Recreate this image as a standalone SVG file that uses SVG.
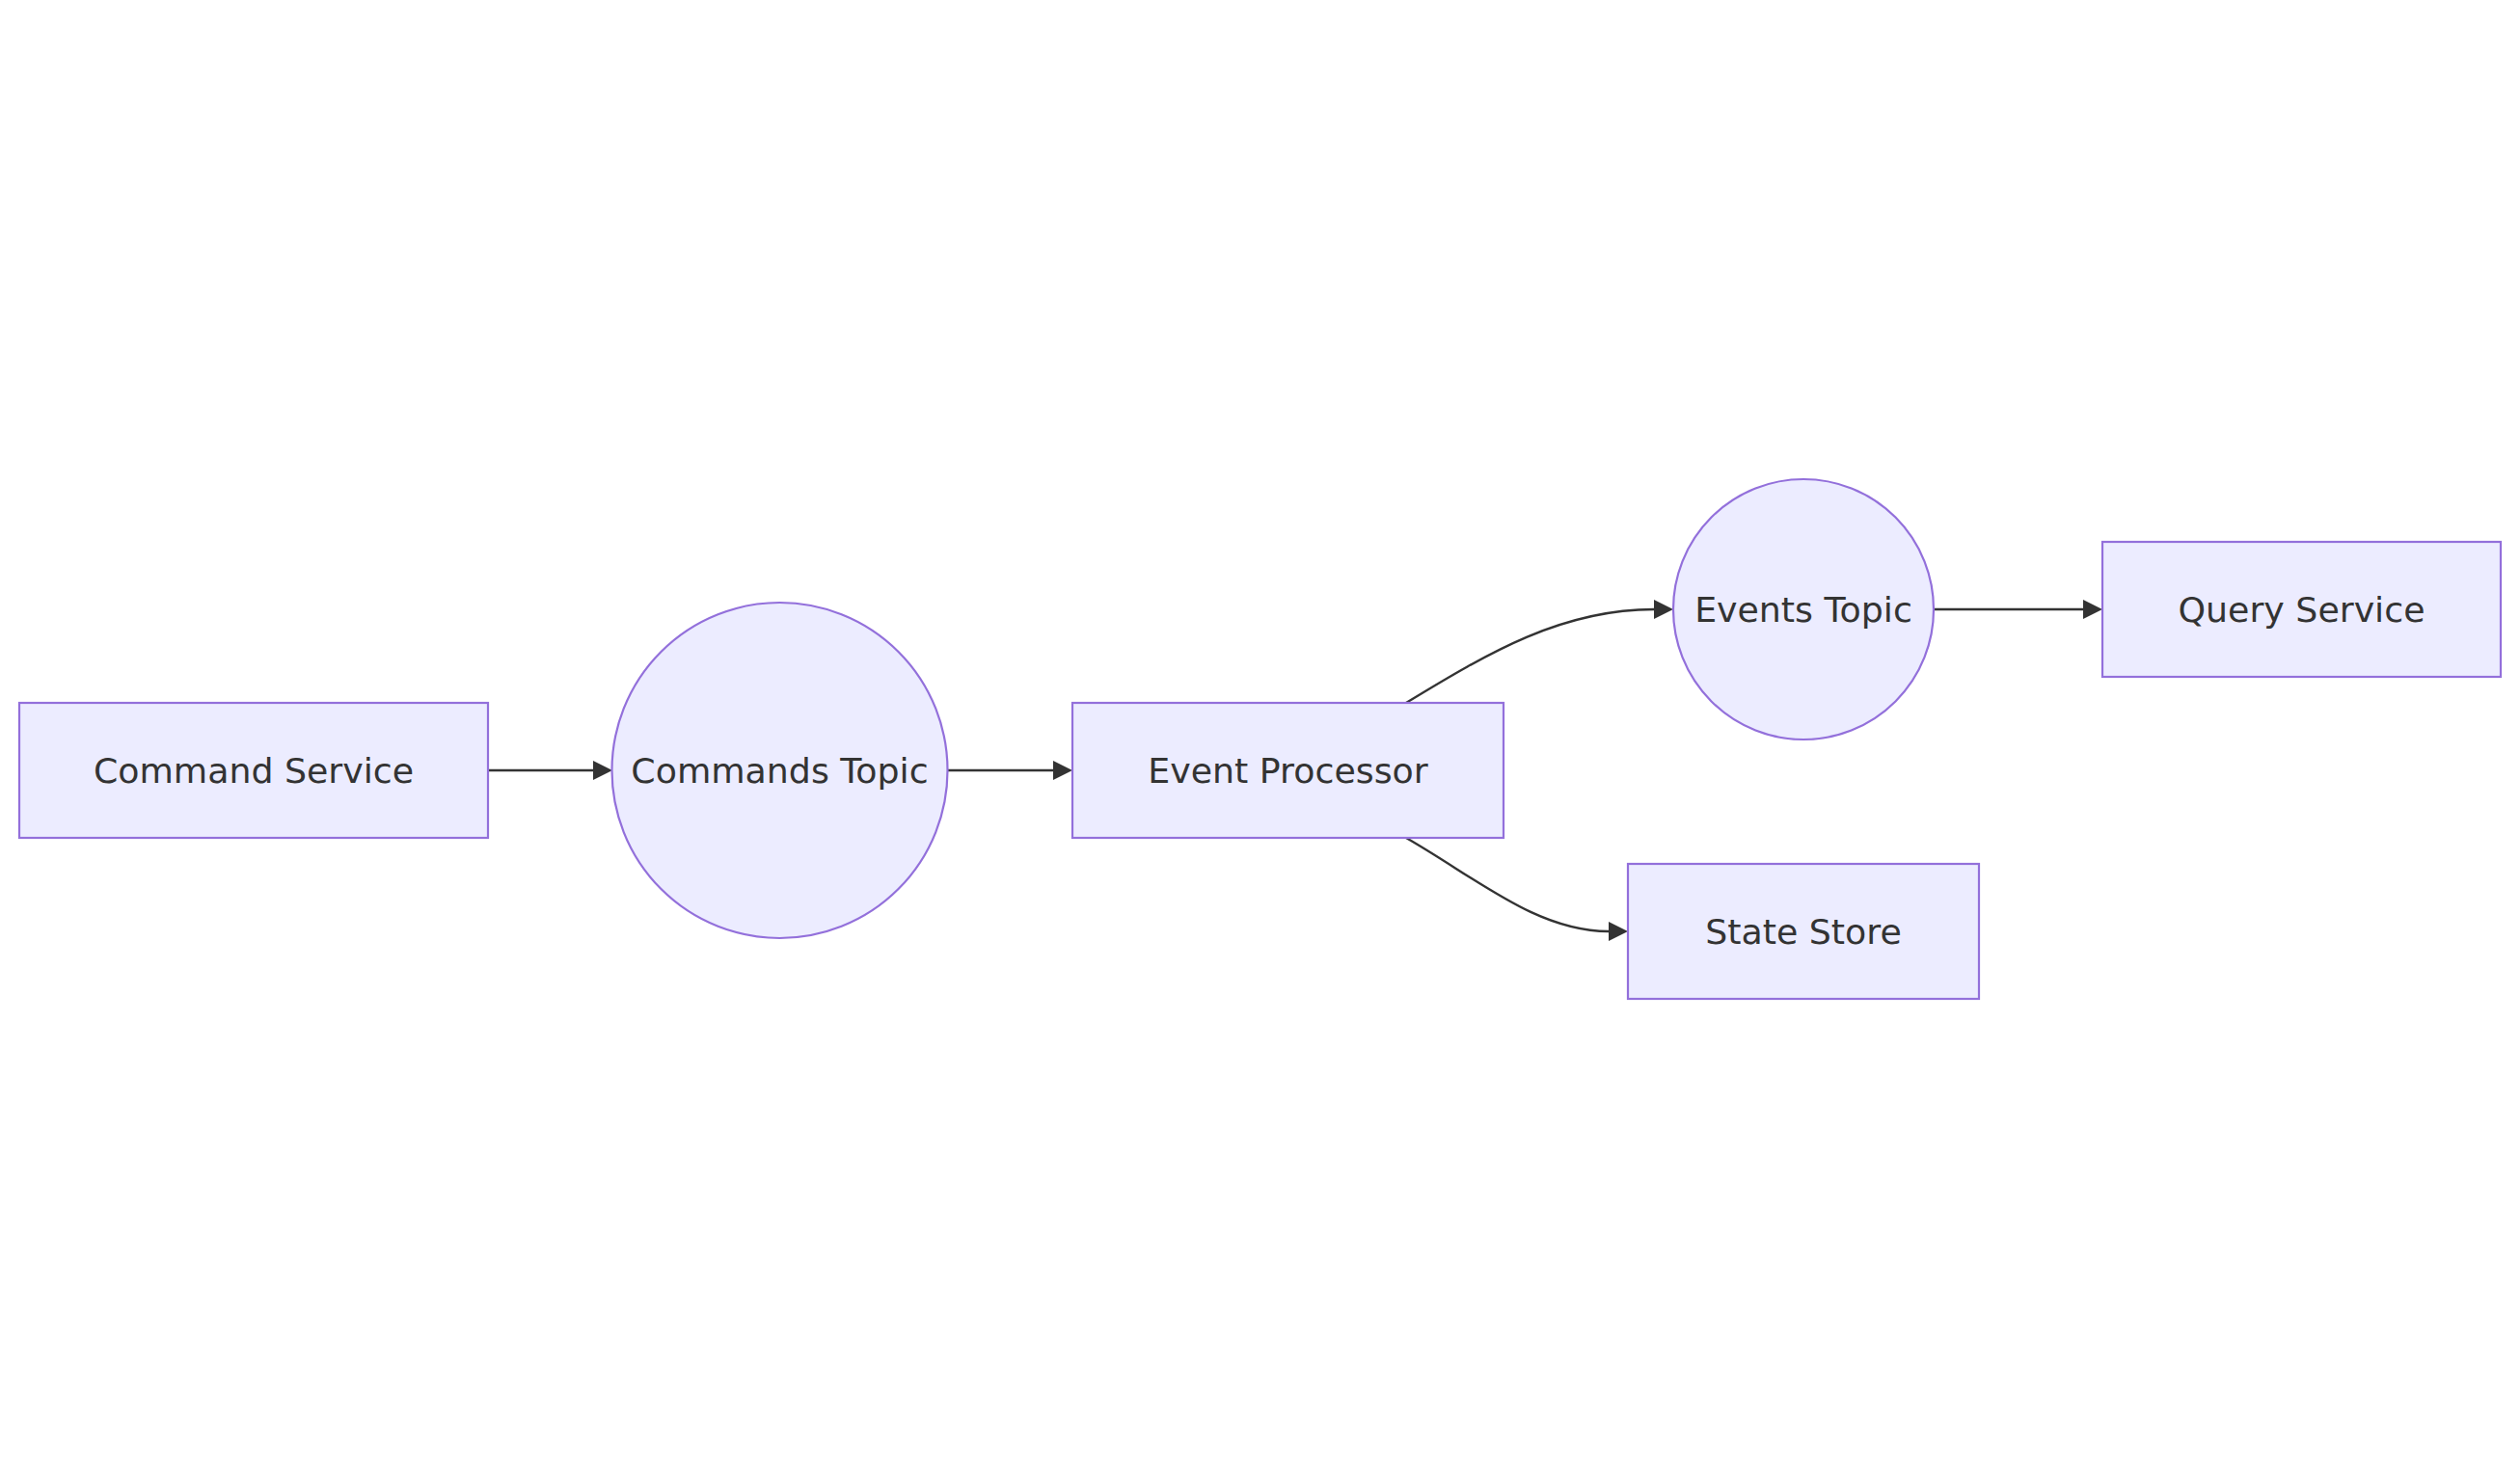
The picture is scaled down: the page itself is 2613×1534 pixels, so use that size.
<svg xmlns="http://www.w3.org/2000/svg" width="2613" height="1534" viewBox="0 0 2613 1534">
<style>
.node rect, .node circle { fill: #ECECFF; stroke: #9370DB; stroke-width: 2.2; }
.node text { font-family: "DejaVu Sans", "Liberation Sans", sans-serif; font-size: 36.3px; fill: #333333; text-anchor: middle; }
.edge { fill: none; stroke: #333333; stroke-width: 2.4; }
</style>
<defs>
<marker id="arrow" viewBox="0 0 10 10" refX="0" refY="5" markerUnits="userSpaceOnUse" markerWidth="20" markerHeight="20" orient="auto">
<path d="M0,0 L10,5 L0,10 z" fill="#333333"/>
</marker>
</defs>
<rect width="2613" height="1534" fill="#ffffff"/>
<g id="connectors">
<path class="edge" d="M506,799 L615,799" marker-end="url(#arrow)"/>
<path class="edge" d="M983,799 L1092,799" marker-end="url(#arrow)"/>
<path class="edge" d="M1458,729 C1545,676 1620,632 1715,632" marker-end="url(#arrow)"/>
<path class="edge" d="M1458,869 C1530,910 1593,966 1668,966" marker-end="url(#arrow)"/>
<path class="edge" d="M2005,632 L2160,632" marker-end="url(#arrow)"/>
</g>
<g id="command-service" class="node">
<rect x="20" y="729" width="486" height="140"/>
<text x="263" y="812">Command Service</text>
</g>
<g id="commands-topic" class="node">
<circle cx="808.5" cy="799" r="174"/>
<text x="808.5" y="812">Commands Topic</text>
</g>
<g id="event-processor" class="node">
<rect x="1112" y="729" width="447" height="140"/>
<text x="1335.5" y="812">Event Processor</text>
</g>
<g id="events-topic" class="node">
<circle cx="1870" cy="632" r="135"/>
<text x="1870" y="645">Events Topic</text>
</g>
<g id="query-service" class="node">
<rect x="2180" y="562" width="413" height="140"/>
<text x="2386.5" y="645">Query Service</text>
</g>
<g id="state-store" class="node">
<rect x="1688" y="896" width="364" height="140"/>
<text x="1870" y="979">State Store</text>
</g>
</svg>
